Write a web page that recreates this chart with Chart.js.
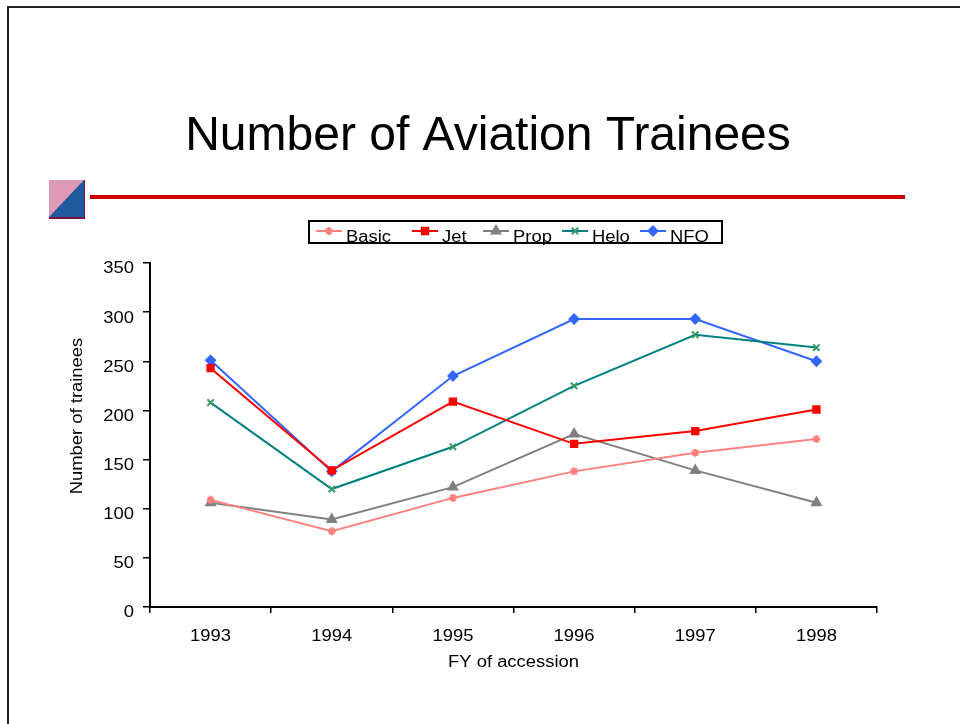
<!DOCTYPE html>
<html>
<head>
<meta charset="utf-8">
<script src="https://cdn.jsdelivr.net/npm/chart.js@4"></script>
<style>
html,body{margin:0;padding:0;background:#fff;}
canvas{display:block;}
</style>
</head>
<body>
<canvas id="c" width="960" height="724"></canvas>
<script>
const years = ['1993','1994','1995','1996','1997','1998'];
const basic = [109, 77, 111, 138, 157, 171];
const jet   = [243, 139, 209, 166, 179, 201];
const prop  = [106, 89, 122, 176, 139, 106];
const helo  = [208, 120, 163, 225, 277, 264];
const nfo   = [251, 138, 235, 293, 293, 250];
const yTicks = [0, 50, 100, 150, 200, 250, 300, 350];
const titleText = 'Number of Aviation Trainees';
const xTitle = 'FY of accession';
const yTitle = 'Number of trainees';

const FONT = '"Liberation Sans", Arial, Helvetica, sans-serif';
const STRETCH = 1.15;
let curStretch = STRETCH;

function ds(label, data, color, pointColor, style, radius) {
  return {
    label, data,
    borderColor: color, backgroundColor: pointColor,
    pointBackgroundColor: pointColor, pointBorderColor: pointColor,
    pointStyle: style, pointRadius: radius, pointBorderWidth: 2,
    borderWidth: 2, tension: 0, fill: false
  };
}

// text in the reference is drawn horizontally widened; emulate around each anchor
const stretchText = {
  id: 'stretchText',
  beforeInit(chart) {
    const ctx = chart.ctx;
    const orig = ctx.fillText;
    ctx.fillText = function (t, x, y, maxW) {
      const s = curStretch;
      if (s === 1) return maxW === undefined ? orig.call(this, t, x, y) : orig.call(this, t, x, y, maxW);
      this.save();
      this.translate(x, y);
      this.scale(s, 1);
      if (maxW === undefined) orig.call(this, t, 0, 0); else orig.call(this, t, 0, 0, maxW / s);
      this.restore();
    };
  }
};

const decor = {
  id: 'decor',
  afterDraw(chart) {
    const ctx = chart.ctx;
    ctx.save();
    // slide border
    ctx.strokeStyle = '#222';
    ctx.lineWidth = 2;
    ctx.beginPath();
    ctx.moveTo(8, 724); ctx.lineTo(8, 7); ctx.lineTo(960, 7);
    ctx.stroke();
    // title
    curStretch = 1;
    ctx.fillStyle = '#000';
    ctx.font = '48px ' + FONT;
    ctx.textAlign = 'center';
    ctx.textBaseline = 'alphabetic';
    ctx.fillText(titleText, 488, 150);
    curStretch = STRETCH;
    // red rule
    ctx.strokeStyle = '#cc0000';
    ctx.lineWidth = 4;
    ctx.beginPath();
    ctx.moveTo(90, 197); ctx.lineTo(905, 197);
    ctx.stroke();
    // icon
    const ix = 49, iy = 180, iw = 36, ih = 39;
    ctx.fillStyle = '#7a1040';
    ctx.fillRect(ix, iy, iw, ih);
    ctx.save();
    ctx.beginPath();
    ctx.rect(ix, iy, iw - 1, ih - 2);
    ctx.clip();
    for (let yy = iy; yy < iy + ih; yy += 2) {
      for (let xx = ix; xx < ix + iw; xx += 2) {
        ctx.fillStyle = ((xx + yy) / 2) % 2 ? '#dc9ab4' : '#a83462';
        ctx.fillRect(xx, yy, 2, 2);
      }
    }
    ctx.fillStyle = '#1e5a9c';
    ctx.beginPath();
    ctx.moveTo(ix, iy + ih - 2); ctx.lineTo(ix + iw - 1, iy); ctx.lineTo(ix + iw - 1, iy + ih - 2);
    ctx.closePath();
    ctx.fill();
    ctx.restore();
    // y axis title
    ctx.save();
    ctx.translate(78, 416);
    ctx.rotate(-Math.PI / 2);
    ctx.font = '16px ' + FONT;
    ctx.fillStyle = '#000';
    ctx.textAlign = 'center';
    ctx.textBaseline = 'middle';
    ctx.fillText(yTitle, 0, 0);
    ctx.restore();
    // legend
    const lx = 309, ly = 221, lw = 413, lh = 22;
    ctx.strokeStyle = '#000';
    ctx.lineWidth = 2;
    ctx.strokeRect(lx, ly, lw, lh);
    const itemX = [316, 412, 483, 562, 640];
    ctx.font = '16px ' + FONT;
    ctx.textAlign = 'left';
    ctx.textBaseline = 'alphabetic';
    chart.data.datasets.forEach((d, i) => {
      const x0 = itemX[i], cy = 231;
      ctx.strokeStyle = d.borderColor;
      ctx.lineWidth = 2;
      ctx.beginPath(); ctx.moveTo(x0, cy); ctx.lineTo(x0 + 26, cy); ctx.stroke();
      ctx.fillStyle = d.pointBackgroundColor;
      ctx.strokeStyle = d.pointBorderColor;
      ctx.lineWidth = 2;
      Chart.helpers.drawPoint(ctx, {pointStyle: d.pointStyle, radius: d.pointRadius, rotation: 0, borderWidth: 2}, x0 + 13, cy);
      ctx.fillStyle = '#000';
      ctx.fillText(d.label, x0 + 30, 242);
    });
    ctx.restore();
  }
};

new Chart(document.getElementById('c'), {
  type: 'line',
  data: {
    labels: years,
    datasets: [
      ds('Basic', basic, '#ff8080', '#ff8080', 'star', 4),
      ds('Jet', jet, '#ff0000', '#ff0000', 'rect', 4.5),
      ds('Prop', prop, '#808080', '#808080', 'triangle', 5),
      ds('Helo', helo, '#008080', '#339966', 'crossRot', 4.5),
      ds('NFO', nfo, '#3366ff', '#3366ff', 'rectRot', 4.5)
    ]
  },
  options: {
    responsive: false,
    animation: false,
    devicePixelRatio: 1,
    layout: { padding: { left: 0, top: 263, right: 83, bottom: 0 } },
    plugins: {
      legend: { display: false },
      title: { display: false },
      tooltip: { enabled: false }
    },
    scales: {
      x: {
        type: 'category',
        offset: true,
        grid: { offset: true, drawOnChartArea: false, drawTicks: true, tickLength: 6, color: '#000', lineWidth: 1.5 },
        border: { display: true, color: '#000', width: 2 },
        ticks: { color: '#000', font: { family: FONT, size: 16 }, padding: 14, maxRotation: 0 },
        title: { display: true, text: xTitle, color: '#000', font: { family: FONT, size: 16 }, padding: { top: 0, bottom: 52 } },
        afterFit(s) { s.height = 117; }
      },
      y: {
        min: 0, max: 350,
        afterBuildTicks(s) { s.ticks = yTicks.map(v => ({ value: v })); },
        grid: { drawOnChartArea: false, drawTicks: true, tickLength: 7, color: '#000', lineWidth: 1.5 },
        border: { display: true, color: '#000', width: 2 },
        ticks: { color: '#000', font: { family: FONT, size: 16 }, padding: 9, labelOffset: 6 },
        title: { display: false },
        afterFit(s) { s.width = 150; }
      }
    }
  },
  plugins: [stretchText, decor]
});
</script>
</body>
</html>
